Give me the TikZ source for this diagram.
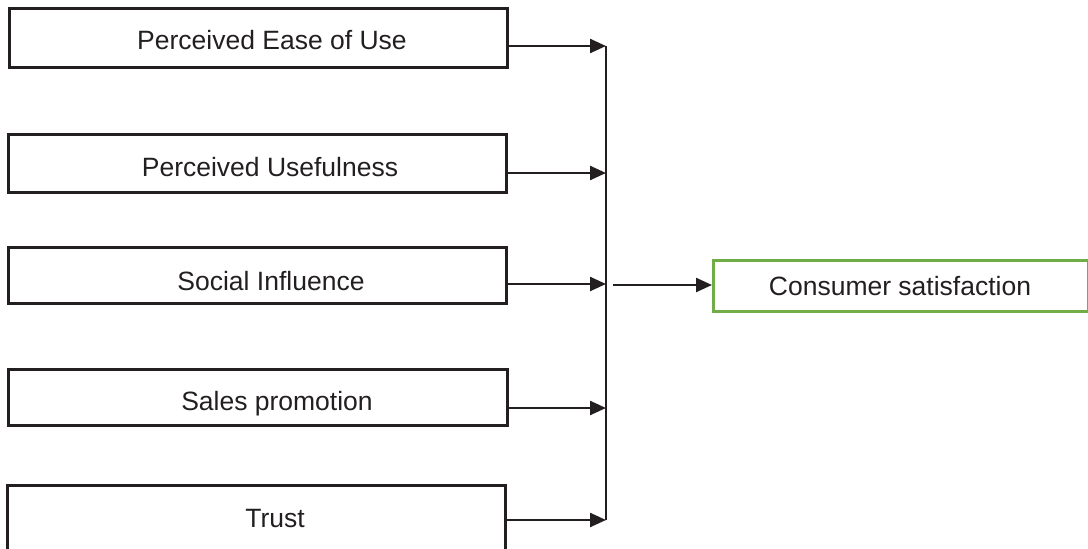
\documentclass[tikz,border=0pt]{standalone}
\usepackage{fontspec}
\setmainfont{Liberation Sans}
\usetikzlibrary{arrows.meta}
\definecolor{ink}{HTML}{231F20}
\definecolor{grn}{HTML}{70AD47}
\tikzset{
  fbox/.style={draw=ink, line width=2.8pt, inner sep=0pt},
  gbox/.style={draw=grn, line width=2.8pt, inner sep=0pt},
  lbl/.style={text=ink, font=\fontsize{26.5}{31}\selectfont, inner sep=0pt},
  arr/.style={draw=ink, line width=2.4pt, -{Triangle[length=16pt,width=14pt]}},
  bus/.style={draw=ink, line width=1.5pt}
}
\begin{document}
\begin{tikzpicture}[x=1pt,y=1pt]
\useasboundingbox (0,0) rectangle (1088,-549);
\clip (0,0) rectangle (1088,-549);
% boxes
\node[fbox, minimum width=498pt, minimum height=59pt, anchor=north west] (b1) at (8,-7) {};
\node[fbox, minimum width=498pt, minimum height=58pt, anchor=north west] (b2) at (7,-133) {};
\node[fbox, minimum width=498pt, minimum height=56pt, anchor=north west] (b3) at (7,-246) {};
\node[fbox, minimum width=499pt, minimum height=56pt, anchor=north west] (b4) at (7,-368) {};
\node[fbox, minimum width=498pt, minimum height=80pt, anchor=north west] (b5) at (6,-484) {};
% labels
\node[lbl] (l1) at (272,-40) {Perceived Ease of Use};
\node[lbl] (l2) at (270,-167) {Perceived Usefulness};
\node[lbl] (l3) at (271,-281) {Social Influence};
\node[lbl] (l4) at (277,-404) {Sales promotion};
\node[lbl] (l5) at (275,-519) {Trust};
% consumer box
\node[gbox, minimum width=375pt, minimum height=51pt, anchor=north west] (cs) at (712,-259) {};
\node[lbl] (lc) at (900,-286) {Consumer satisfaction};
% bus coordinates
\coordinate (t1) at (606,-46);
\coordinate (t2) at (606,-173);
\coordinate (t3) at (606,-284);
\coordinate (t4) at (606,-408);
\coordinate (t5) at (606,-520);
\coordinate (s) at (613,-285);
\draw[bus] (t1) -- (t5);
\draw[arr] (b1.east |- t1) -- (t1);
\draw[arr] (b2.east |- t2) -- (t2);
\draw[arr] (b3.east |- t3) -- (t3);
\draw[arr] (b4.east |- t4) -- (t4);
\draw[arr] (b5.east |- t5) -- (t5);
\draw[arr] (s) -- (cs.west |- s);
\end{tikzpicture}
\end{document}
